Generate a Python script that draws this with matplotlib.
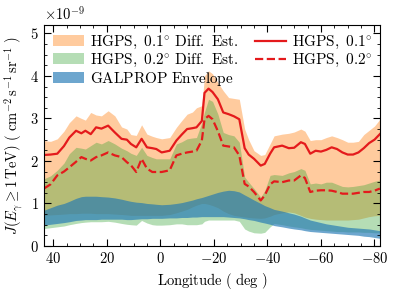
import matplotlib
matplotlib.use("Agg")
import matplotlib.pyplot as plt
from matplotlib.ticker import MultipleLocator
import numpy as np

plt.rcParams["font.family"] = "serif"
plt.rcParams["font.serif"] = ["cmr10"]
plt.rcParams["mathtext.fontset"] = "cm"
plt.rcParams["axes.formatter.use_mathtext"] = True
plt.rcParams["axes.unicode_minus"] = True

# longitude grid (deg)
lon = [43.5, 41, 38.5, 36, 34, 31.5, 29.5, 28, 26, 24, 22, 19.5, 17, 14.5, 12.5, 11, 9, 7, 5, 3,
       1.5, -0.5, -3.5, -6, -8, -10, -12, -13.5, -15.5, -16.5, -18, -19.5, -21.5, -23.5, -25.5,
       -27.5, -29.5, -31.5, -33, -35, -37.5, -39, -41, -42.5, -45.5, -48, -50, -52.5, -54, -56,
       -58, -60, -62, -64, -66, -68, -70, -72, -74, -76, -78, -80, -82]

# HGPS 0.1 deg profile (x1e-9)
hgps_01 = [2.14, 2.15, 2.17, 2.35, 2.55, 2.71, 2.65, 2.71, 2.63, 2.79, 2.76, 2.83, 2.67, 2.52, 2.50,
           2.40, 2.32, 2.52, 2.32, 2.30, 2.28, 2.20, 2.24, 2.48, 2.62, 2.75, 2.77, 2.79, 2.94, 3.60,
           3.70, 3.62, 3.45, 3.14, 3.10, 3.05, 2.98, 2.30, 2.15, 2.05, 1.89, 1.93, 2.17, 2.32, 2.36,
           2.30, 2.31, 2.44, 2.40, 2.17, 2.24, 2.22, 2.26, 2.32, 2.28, 2.20, 2.15, 2.15, 2.20, 2.30,
           2.42, 2.50, 2.63]
# HGPS 0.2 deg profile
hgps_02 = [1.35, 1.45, 1.66, 1.75, 1.85, 1.98, 2.09, 2.05, 2.01, 2.09, 2.13, 2.20, 2.13, 2.09, 1.97,
           1.90, 1.74, 2.05, 1.82, 1.74, 1.74, 1.74, 1.78, 2.13, 2.17, 2.20, 2.22, 2.24, 2.48, 2.98,
           3.06, 2.98, 2.70, 2.36, 2.34, 2.32, 2.13, 1.46, 1.40, 1.27, 1.07, 1.19, 1.45, 1.52, 1.50,
           1.54, 1.54, 1.66, 1.60, 1.27, 1.30, 1.31, 1.31, 1.30, 1.27, 1.23, 1.23, 1.23, 1.25, 1.27,
           1.27, 1.30, 1.35]

# diffuse estimate bands
diff01_hi = [2.48, 2.46, 2.52, 2.70, 2.90, 3.06, 3.00, 2.96, 3.14, 3.08, 3.06, 3.18, 3.06, 2.80, 2.75,
             2.62, 2.60, 2.85, 2.63, 2.58, 2.55, 2.52, 2.55, 2.79, 2.95, 3.10, 3.15, 3.25, 3.30, 4.00,
             4.12, 4.05, 3.84, 3.65, 3.49, 3.47, 3.45, 2.75, 2.50, 2.24, 2.13, 2.15, 2.40, 2.59, 2.63,
             2.65, 2.68, 2.75, 2.70, 2.48, 2.50, 2.50, 2.55, 2.59, 2.55, 2.50, 2.44, 2.44, 2.46, 2.62,
             2.72, 2.82, 2.98]
diff01_lo = [0.72, 0.73, 0.74, 0.75, 0.76, 0.76, 0.77, 0.77, 0.77, 0.76, 0.76, 0.76, 0.75, 0.74, 0.73,
             0.72, 0.72, 0.72, 0.72, 0.72, 0.72, 0.72, 0.74, 0.78, 0.82, 0.86, 0.92, 0.96, 1.00, 1.00,
             0.98, 0.95, 0.90, 0.82, 0.76, 0.72, 0.70, 0.68, 0.67, 0.66, 0.65, 0.66, 0.70, 0.74, 0.78,
             0.80, 0.78, 0.72, 0.68, 0.65, 0.63, 0.62, 0.61, 0.61, 0.61, 0.61, 0.61, 0.62, 0.63, 0.66,
             0.69, 0.71, 0.72]
diff02_hi = [1.58, 1.65, 1.78, 1.95, 2.17, 2.32, 2.30, 2.28, 2.36, 2.44, 2.40, 2.48, 2.40, 2.30, 2.24,
             2.18, 2.13, 2.32, 2.13, 2.08, 2.05, 2.05, 2.05, 2.40, 2.45, 2.52, 2.54, 2.55, 2.90, 3.15,
             3.45, 3.40, 3.10, 2.67, 2.62, 2.59, 2.44, 1.62, 1.50, 1.35, 1.15, 1.30, 1.66, 1.68, 1.66,
             1.72, 1.75, 1.82, 1.78, 1.46, 1.48, 1.46, 1.50, 1.50, 1.45, 1.40, 1.39, 1.40, 1.42, 1.44,
             1.48, 1.52, 1.55]
diff02_lo = [0.41, 0.43, 0.45, 0.47, 0.50, 0.53, 0.55, 0.56, 0.57, 0.57, 0.57, 0.58, 0.56, 0.53, 0.51,
             0.50, 0.49, 0.60, 0.54, 0.50, 0.49, 0.49, 0.50, 0.52, 0.52, 0.50, 0.50, 0.50, 0.52, 0.58,
             0.61, 0.61, 0.61, 0.61, 0.61, 0.61, 0.58, 0.40, 0.35, 0.31, 0.30, 0.32, 0.45, 0.53, 0.50,
             0.47, 0.45, 0.43, 0.41, 0.39, 0.38, 0.37, 0.36, 0.35, 0.34, 0.34, 0.33, 0.33, 0.33, 0.32,
             0.32, 0.31, 0.31]

# GALPROP envelope
galprop_hi = [0.84, 0.90, 0.96, 1.00, 1.05, 1.12, 1.16, 1.17, 1.17, 1.17, 1.16, 1.15, 1.13, 1.10, 1.07,
              1.05, 1.03, 1.02, 1.00, 0.99, 0.98, 0.97, 0.98, 1.00, 1.02, 1.05, 1.08, 1.11, 1.14, 1.16,
              1.19, 1.22, 1.26, 1.29, 1.31, 1.30, 1.27, 1.20, 1.15, 1.08, 1.00, 0.95, 0.90, 0.86, 0.82,
              0.78, 0.75, 0.70, 0.66, 0.61, 0.58, 0.55, 0.52, 0.50, 0.48, 0.46, 0.44, 0.43, 0.42, 0.41,
              0.40, 0.38, 0.36]
galprop_lo = [0.49, 0.51, 0.53, 0.55, 0.57, 0.60, 0.61, 0.62, 0.62, 0.62, 0.63, 0.63, 0.63, 0.63, 0.62,
              0.62, 0.63, 0.64, 0.64, 0.65, 0.65, 0.65, 0.66, 0.66, 0.67, 0.67, 0.68, 0.68, 0.69, 0.69,
              0.69, 0.69, 0.69, 0.69, 0.68, 0.67, 0.66, 0.64, 0.62, 0.60, 0.56, 0.54, 0.51, 0.48, 0.45,
              0.42, 0.40, 0.38, 0.36, 0.34, 0.33, 0.32, 0.31, 0.30, 0.29, 0.28, 0.27, 0.26, 0.25, 0.23,
              0.22, 0.20, 0.18]

s = 1e-9
lon = np.array(lon)

fig = plt.figure(figsize=(3.99, 2.96), dpi=100)
ax = fig.add_axes([0.110, 0.169, 0.842, 0.747])

ax.fill_between(lon, np.array(diff01_lo) * s, np.array(diff01_hi) * s, color="tab:orange", alpha=0.4,
                lw=0, label=r"$\mathrm{HGPS,\ 0.1^{\circ}\ Diff.\ Est.}$")
ax.fill_between(lon, np.array(diff02_lo) * s, np.array(diff02_hi) * s, color="tab:green", alpha=0.35,
                lw=0, label=r"$\mathrm{HGPS,\ 0.2^{\circ}\ Diff.\ Est.}$")
ax.fill_between(lon, np.array(galprop_lo) * s, np.array(galprop_hi) * s, color="tab:blue", alpha=0.65,
                lw=0, label=r"$\mathrm{GALPROP\ Envelope}$")
ax.plot(lon, np.array(hgps_01) * s, color="#e41a1c", lw=1.6, label=r"$\mathrm{HGPS,\ 0.1^{\circ}}$")
ax.plot(lon, np.array(hgps_02) * s, color="#e41a1c", lw=1.6, ls="--", label=r"$\mathrm{HGPS,\ 0.2^{\circ}}$")

ax.set_xlim(43.5, -82)
ax.set_ylim(0, 5.2e-9)
ax.xaxis.set_major_locator(MultipleLocator(20))
ax.xaxis.set_minor_locator(MultipleLocator(5))
ax.yaxis.set_major_locator(MultipleLocator(1e-9))
ax.yaxis.set_minor_locator(MultipleLocator(0.25e-9))
ax.tick_params(which="both", direction="in", top=True, right=True, labelsize=10.5)
ax.tick_params(which="major", length=5)
ax.tick_params(which="minor", length=2.5)
ax.yaxis.get_offset_text().set_fontsize(10.5)

ax.set_xlabel(r"$\mathrm{Longitude\ (\ deg\ )}$", fontsize=10.5)
ax.set_ylabel(r"$J(E_{\gamma} \geq 1\,\mathrm{TeV})\ (\ \mathrm{cm^{-2}\,s^{-1}\,sr^{-1}}\ )$", fontsize=10.5)

ax.legend(loc="upper left", ncol=2, frameon=False, fontsize=11, handlelength=2.0,
          borderaxespad=0.2, labelspacing=0.05, columnspacing=1.1, handletextpad=0.4)

fig.savefig("out.png", dpi=100)
